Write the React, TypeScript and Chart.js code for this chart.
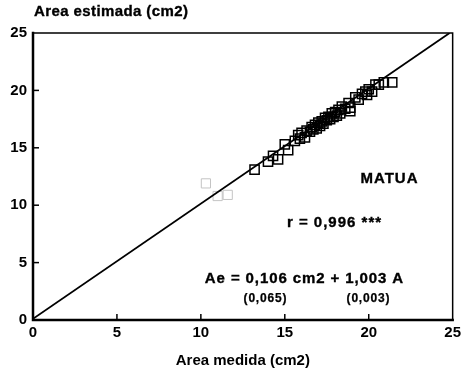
import React, { useEffect, useRef } from "react";
import { Chart, registerables } from "chart.js";

Chart.register(...registerables);

// Measured vs. estimated leaf area (cm2), MATUA
const measured: number[] = [
  13.2, 14.0, 14.3, 14.6, 15.0, 15.2, 15.6, 15.8, 15.9, 16.0,
  16.2, 16.3, 16.5, 16.6, 16.7, 16.8, 16.9, 17.0, 17.1, 17.2,
  17.3, 17.4, 17.5, 17.6, 17.7, 17.8, 17.9, 18.0, 18.1, 18.2,
  18.3, 18.4, 18.6, 18.8, 18.9, 18.9, 19.2, 19.4, 19.6, 19.8,
  19.9, 20.0, 20.2, 20.4, 20.6, 20.9, 21.4,
];
const estimated: number[] = [
  13.1, 13.8, 14.3, 14.0, 15.3, 14.8, 15.6, 16.1, 15.8, 16.3,
  15.9, 16.5, 16.4, 16.8, 16.6, 17.0, 16.7, 17.2, 16.9, 17.3,
  17.1, 17.6, 17.4, 17.7, 17.5, 18.0, 17.7, 18.1, 17.8, 18.3,
  18.0, 18.6, 18.4, 18.9, 18.5, 18.2, 19.4, 19.2, 19.7, 19.9,
  19.6, 20.1, 19.9, 20.5, 20.5, 20.7, 20.7,
];
// faint (light) points in the scan
const faintMeasured: number[] = [10.3, 11.0, 11.6];
const faintEstimated: number[] = [11.9, 10.8, 10.9];

const intercept = 0.106;
const slope = 1.003;
const axisMin = 0;
const axisMax = 25;
const tickValues: number[] = [0, 5, 10, 15, 20, 25];

const FONT = "'Liberation Sans', Arial, Helvetica, sans-serif";

function spacedText(ctx: any, text: string, x: number, y: number, spacing: number, align: string) {
  ctx.letterSpacing = `${spacing}px`;
  const w = ctx.measureText(text).width - spacing;
  let sx = x;
  if (align === "center") sx = x - w / 2;
  else if (align === "right") sx = x - w;
  ctx.textAlign = "left";
  ctx.fillText(text, sx, y);
  ctx.strokeText(text, sx, y);
  ctx.letterSpacing = "0px";
}

const framePlugin = {
  id: "frameAndText",
  afterDraw(chart: any) {
    const { ctx, chartArea, scales } = chart;
    const { left, right, top, bottom } = chartArea;
    ctx.save();
    ctx.strokeStyle = "#000";
    ctx.lineCap = "square";
    // top & right (thinner)
    ctx.lineWidth = 1.5;
    ctx.beginPath();
    ctx.moveTo(left, top);
    ctx.lineTo(right, top);
    ctx.lineTo(right, bottom);
    ctx.stroke();
    // left & bottom (heavier)
    ctx.lineWidth = 2.5;
    ctx.beginPath();
    ctx.moveTo(left, top);
    ctx.lineTo(left, bottom);
    ctx.lineTo(right, bottom);
    ctx.stroke();
    ctx.lineCap = "butt";
    ctx.lineWidth = 1.5;
    tickValues.forEach((v) => {
      if (v === axisMin || v === axisMax) return;
      const x = scales.x.getPixelForValue(v);
      ctx.beginPath();
      ctx.moveTo(x, bottom);
      ctx.lineTo(x, bottom - 6);
      ctx.stroke();
      const y = scales.y.getPixelForValue(v);
      ctx.beginPath();
      ctx.moveTo(left, y);
      ctx.lineTo(left + 6, y);
      ctx.stroke();
    });
    ctx.fillStyle = "#000";
    ctx.strokeStyle = "#000";
    ctx.lineWidth = 0.35;
    ctx.textBaseline = "middle";
    ctx.font = `bold 15px ${FONT}`;
    spacedText(ctx, "Area estimada (cm2)", 34, 12, 0.4, "left");
    spacedText(ctx, "MATUA", 389, 179, 1, "center");
    spacedText(ctx, "r = 0,996 ***", 334, 223, 1, "center");
    spacedText(ctx, "Ae = 0,106 cm2 + 1,003 A", 304, 279, 0.9, "center");
    ctx.font = `bold 12px ${FONT}`;
    ctx.lineWidth = 0.25;
    spacedText(ctx, "(0,065)", 265, 299, 0.8, "center");
    spacedText(ctx, "(0,003)", 368, 299, 0.8, "center");
    ctx.restore();
  },
};

export default function App() {
  const ref = useRef<HTMLCanvasElement>(null);
  useEffect(() => {
    if (!ref.current) return;
    const xEnd = (axisMax - intercept) / slope;
    const chart = new Chart(ref.current, {
      type: "scatter",
      data: {
        datasets: [
          {
            type: "line",
            label: "regression",
            data: [
              { x: axisMin, y: intercept + slope * axisMin },
              { x: xEnd, y: intercept + slope * xEnd },
            ],
            borderColor: "#000",
            borderWidth: 1.8,
            pointRadius: 0,
            fill: false,
          } as any,
          {
            label: "MATUA",
            data: measured.map((x, i) => ({ x, y: estimated[i] })),
            pointStyle: "rect",
            pointRadius: 6.5,
            borderColor: "#000",
            borderWidth: 1.5,
            backgroundColor: "rgba(0,0,0,0)",
          },
          {
            label: "faint",
            data: faintMeasured.map((x, i) => ({ x, y: faintEstimated[i] })),
            pointStyle: "rect",
            pointRadius: 6.5,
            borderColor: "#c4c4c4",
            borderWidth: 1,
            backgroundColor: "rgba(0,0,0,0)",
          },
        ],
      },
      options: {
        responsive: false,
        animation: false,
        layout: { padding: { left: 0, right: 10, top: 33, bottom: 0 } },
        plugins: {
          legend: { display: false },
          tooltip: { enabled: false },
        },
        scales: {
          x: {
            type: "linear",
            min: axisMin,
            max: axisMax,
            afterBuildTicks: (s: any) => {
              s.ticks = tickValues.map((v) => ({ value: v }));
            },
            afterFit: (s: any) => {
              s.height = 50;
            },
            grid: { display: false, drawTicks: false },
            border: { display: false },
            ticks: {
              padding: 4,
              color: "#000",
              font: { family: FONT, size: 15, weight: "bold" },
              maxRotation: 0,
            },
            title: {
              display: true,
              text: "Area medida (cm2)",
              color: "#000",
              font: { family: FONT, size: 15, weight: "bold" },
              padding: { top: 3, bottom: 0 },
            },
          },
          y: {
            type: "linear",
            min: axisMin,
            max: axisMax,
            afterBuildTicks: (s: any) => {
              s.ticks = tickValues.map((v) => ({ value: v }));
            },
            afterFit: (s: any) => {
              s.width = 33;
            },
            grid: { display: false, drawTicks: false },
            border: { display: false },
            ticks: {
              padding: 6,
              color: "#000",
              font: { family: FONT, size: 15, weight: "bold" },
            },
          },
        },
      },
      plugins: [framePlugin],
    });
    return () => chart.destroy();
  }, []);
  return (
    <div style={{ position: "fixed", left: 0, top: 0, width: 465, height: 370, background: "#fff" }}>
      <canvas ref={ref} width={465} height={370} />
    </div>
  );
}
